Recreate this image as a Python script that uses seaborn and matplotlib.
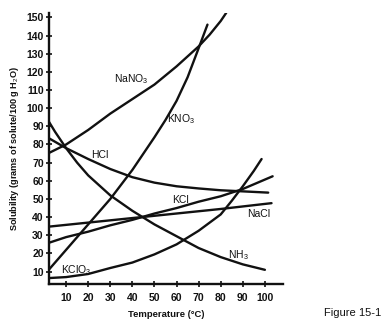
import matplotlib
matplotlib.use("Agg")
import matplotlib.pyplot as plt
import seaborn as sns
import pandas as pd

# ---- data ----
nano3_t = [0, 10, 20, 30, 40, 50, 60, 70, 75, 80, 82.5]
nano3_s = [74, 80, 88, 97, 105, 113, 123, 134, 140.5, 148, 152.5]

kno3_t = [0, 10, 20, 30, 40, 50, 55, 60, 65, 70, 74]
kno3_s = [8, 22, 36, 50, 66, 84, 93.5, 104, 117, 133, 146]

nh3_t = [0, 5, 10, 15, 20, 30, 40, 50, 60, 70, 80, 90, 100]
nh3_s = [97, 87, 78, 70, 63, 52, 43.5, 36, 29.5, 23, 18, 14, 11]

hcl_t = [0, 10, 20, 30, 40, 50, 60, 70, 80, 90, 101.5]
hcl_s = [85, 78, 72, 66.5, 62, 59, 57, 55.8, 54.8, 54.2, 53.5]

kcl_t = [0, 10, 20, 30, 40, 50, 60, 70, 80, 90, 103.5]
kcl_s = [25, 29, 32, 35.5, 38.5, 42, 45, 48.5, 51.5, 55.5, 62.5]

nacl_t = [0, 20, 40, 60, 80, 103]
nacl_s = [34.5, 37, 39.5, 42, 44.5, 47.7]

kclo3_t = [0, 10, 20, 30, 40, 50, 60, 70, 80, 85, 90, 95, 98.5]
kclo3_s = [6.3, 7, 8.7, 12, 15, 19.5, 25, 32.5, 41.5, 49, 57, 65.5, 72]

x_ticks = [10, 20, 30, 40, 50, 60, 70, 80, 90, 100]
y_ticks = [10, 20, 30, 40, 50, 60, 70, 80, 90, 100, 110, 120, 130, 140, 150]

labels = {
    "NaNO3": (r"NaNO$_3$", 39.4, 116),
    "KNO3": (r"KNO$_3$", 62, 94),
    "HCl": ("HCl", 25.4, 74.2),
    "KCl": ("KCl", 62, 49.2),
    "NaCl": ("NaCl", 97.2, 41.5),
    "NH3": (r"NH$_3$", 88, 19.2),
    "KClO3": (r"KClO$_3$", 14.5, 10.7),
}

series = {
    "NaNO3": (nano3_t, nano3_s),
    "KNO3": (kno3_t, kno3_s),
    "NH3": (nh3_t, nh3_s),
    "HCl": (hcl_t, hcl_s),
    "KCl": (kcl_t, kcl_s),
    "NaCl": (nacl_t, nacl_s),
    "KClO3": (kclo3_t, kclo3_s),
}

rows = []
for name, (ts, ss) in series.items():
    for t, s in zip(ts, ss):
        rows.append({"compound": name, "temp": t, "sol": s})
df = pd.DataFrame(rows)

sns.set_style("ticks")
plt.rcParams["font.family"] = ["Liberation Sans", "DejaVu Sans"]
plt.rcParams["mathtext.fontset"] = "custom"
plt.rcParams["mathtext.rm"] = "Liberation Sans"
plt.rcParams["mathtext.it"] = "Liberation Sans:italic"
plt.rcParams["mathtext.bf"] = "Liberation Sans:bold"

fig = plt.figure(figsize=(3.84, 3.25), dpi=100)
ax = fig.add_axes([0.1284, 0.1262, 0.6086, 0.8338])

sns.lineplot(data=df, x="temp", y="sol", hue="compound",
             palette={k: "#111111" for k in series}, estimator=None,
             sort=False, legend=False, linewidth=1.7, ax=ax)

ax.set_xlim(2.4, 108.2)
ax.set_ylim(3.2, 152.4)
ax.set_xticks(x_ticks)
ax.set_yticks(y_ticks)
ax.tick_params(direction="inout", length=5, width=1.2, pad=1.5,
               labelsize=7.5, colors="#111111")
for lab in ax.get_xticklabels() + ax.get_yticklabels():
    lab.set_fontweight("bold")
ax.tick_params(axis="x", pad=4)

sns.despine(ax=ax)
for sp in ("left", "bottom"):
    ax.spines[sp].set_linewidth(1.7)
    ax.spines[sp].set_color("#111111")

ax.set_xlabel("Temperature (°C)", fontsize=6.8, fontweight="bold", labelpad=5,
              color="#111111")
ax.set_ylabel("Solubility (grams of solute/100 g H$_2$O)", fontsize=6.6,
              fontweight="bold", labelpad=4, color="#111111")

for name, (txt, x, y) in labels.items():
    ax.text(x, y, txt, fontsize=7.5, ha="center", va="center", color="#111111")

fig.text(353 / 384, 1 - 313 / 325, "Figure 15-1", fontsize=8, ha="center",
         va="center", color="#111111")

fig.savefig("out.png", dpi=100, facecolor="white")
